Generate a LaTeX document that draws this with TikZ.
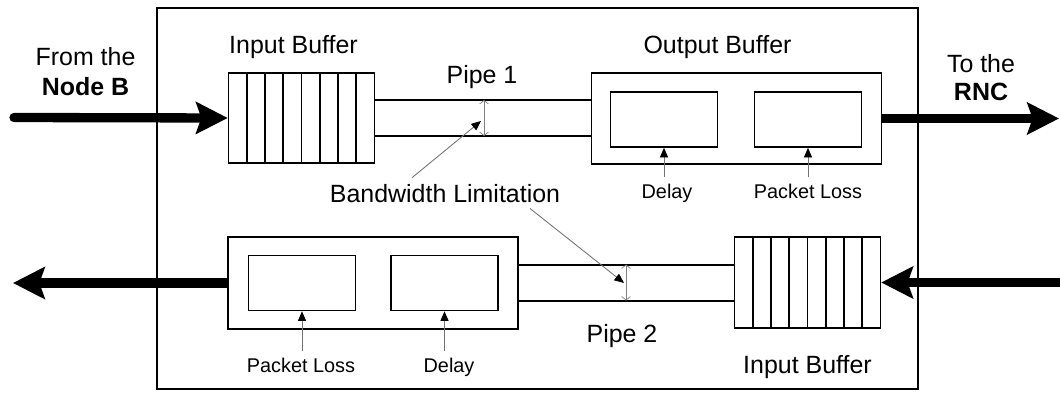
\documentclass[tikz,border=0pt]{standalone}
\usepackage{fontspec}
\setmainfont{Liberation Sans}
\usetikzlibrary{arrows.meta}

\begin{document}
\begin{tikzpicture}[x=0.02cm,y=-0.02cm,
  buf/.style={draw,line width=0.9pt,minimum width=2.92cm,minimum height=1.81cm,inner sep=0pt},
  outbox/.style={draw,line width=0.9pt,minimum width=5.8cm,minimum height=1.83cm,inner sep=0pt},
  cell/.style={draw,line width=0.9pt,minimum width=2.14cm,minimum height=1.1cm,inner sep=0pt},
  pipe/.style={line width=0.9pt},
  lbl/.style={font=\fontsize{14.2}{16}\selectfont,anchor=base},
  tag/.style={font=\fontsize{11.3}{13}\selectfont,anchor=base},
  flow/.style={line width=5.3pt,-{Stealth[length=18pt,width=18pt,inset=3pt]}},
  ptr/.style={draw=black!55,line width=0.5pt,-{Triangle[length=5.5pt,width=4.6pt,color=black]}},
  dim/.style={draw=black!50,line width=0.4pt,{Straight Barb[length=2pt,width=5pt]}-{Straight Barb[length=2pt,width=5pt]}}]
\useasboundingbox (0,0) rectangle (1060,392);

% simulator frame
\draw[line width=1.1pt] (157,8) rectangle (918,389);

% upper path: Node B -> RNC
\coordinate (srcA) at (14,117.5);
\coordinate (dstA) at (1059,118.5);
\node[buf] (inA) at (301.5,118) {};
\node[outbox] (outA) at (736.5,118.5) {};
\node[cell] (dlyA) at (664,119.5) {};
\node[cell] (lossA) at (808,119.5) {};
\foreach \i in {1,...,7} \draw[pipe] (228.5+\i*18.25,73) -- (228.5+\i*18.25,163);
\draw[flow,line cap=round] (srcA) -- (inA.west);
\draw[flow] (outA.east) -- (dstA);
\draw[pipe] ([yshift=0.36cm]inA.east) -- ([yshift=0.36cm]inA.east -| outA.west);
\draw[pipe] ([yshift=-0.36cm]inA.east) -- ([yshift=-0.36cm]inA.east -| outA.west);
\draw[dim] (484,100) -- (484,136);

% lower path: RNC -> Node B
\coordinate (srcB) at (1060,282.5);
\coordinate (dstB) at (13,283);
\node[outbox] (outB) at (373,283) {};
\node[cell] (lossB) at (302,283) {};
\node[cell] (dlyB) at (444.5,283) {};
\node[buf] (inB) at (807.5,282.5) {};
\foreach \i in {1,...,7} \draw[pipe] (734.5+\i*18.25,237.5) -- (734.5+\i*18.25,327.5);
\draw[flow] (srcB) -- (inB.east);
\draw[flow] (outB.west) -- (dstB);
\draw[pipe] ([yshift=0.36cm]outB.east) -- ([yshift=0.36cm]outB.east -| inB.west);
\draw[pipe] ([yshift=-0.36cm]outB.east) -- ([yshift=-0.36cm]outB.east -| inB.west);
\draw[dim] (626,264.5) -- (626,300.5);

% labels
\node[lbl] (fromtxt) at (85.5,65) {From the};
\node[lbl] (nodeb) at (85.5,95) {\bfseries Node B};
\node[lbl] (totxt) at (981,72) {To the};
\node[lbl] (rnc) at (981,100) {\bfseries RNC};
\node[lbl] (inAtxt) at (293.5,53) {Input Buffer};
\node[lbl] (outAtxt) at (717.5,53) {Output Buffer};
\node[lbl] (pipeA) at (482,83) {Pipe 1};
\node[lbl] (pipeB) at (622,342) {Pipe 2};
\node[lbl] (inBtxt) at (807.5,373) {Input Buffer};

% delay and loss markers
\node[tag] (dlyAtxt) at (667,198) {Delay};
\node[tag] (lossAtxt) at (808,198) {Packet Loss};
\node[tag] (lossBtxt) at (301,372) {Packet Loss};
\node[tag] (dlyBtxt) at (449,372) {Delay};
\draw[ptr] (dlyA.south |- dlyAtxt.north) -- (dlyA.south);
\draw[ptr] (lossA.south |- lossAtxt.north) -- (lossA.south);
\draw[ptr] (lossB.south |- lossBtxt.north) -- (lossB.south);
\draw[ptr] (dlyB.south |- dlyBtxt.north) -- (dlyB.south);

% bandwidth limitation
\node[lbl] (bw) at (445,202) {Bandwidth Limitation};
\coordinate (bwA) at (481,121);
\coordinate (bwB) at (624,283);
\draw[ptr] ([xshift=-0.66cm]bw.north) -- (bwA);
\draw[ptr] ([xshift=1.7cm]bw.south) -- (bwB);
\end{tikzpicture}
\end{document}
